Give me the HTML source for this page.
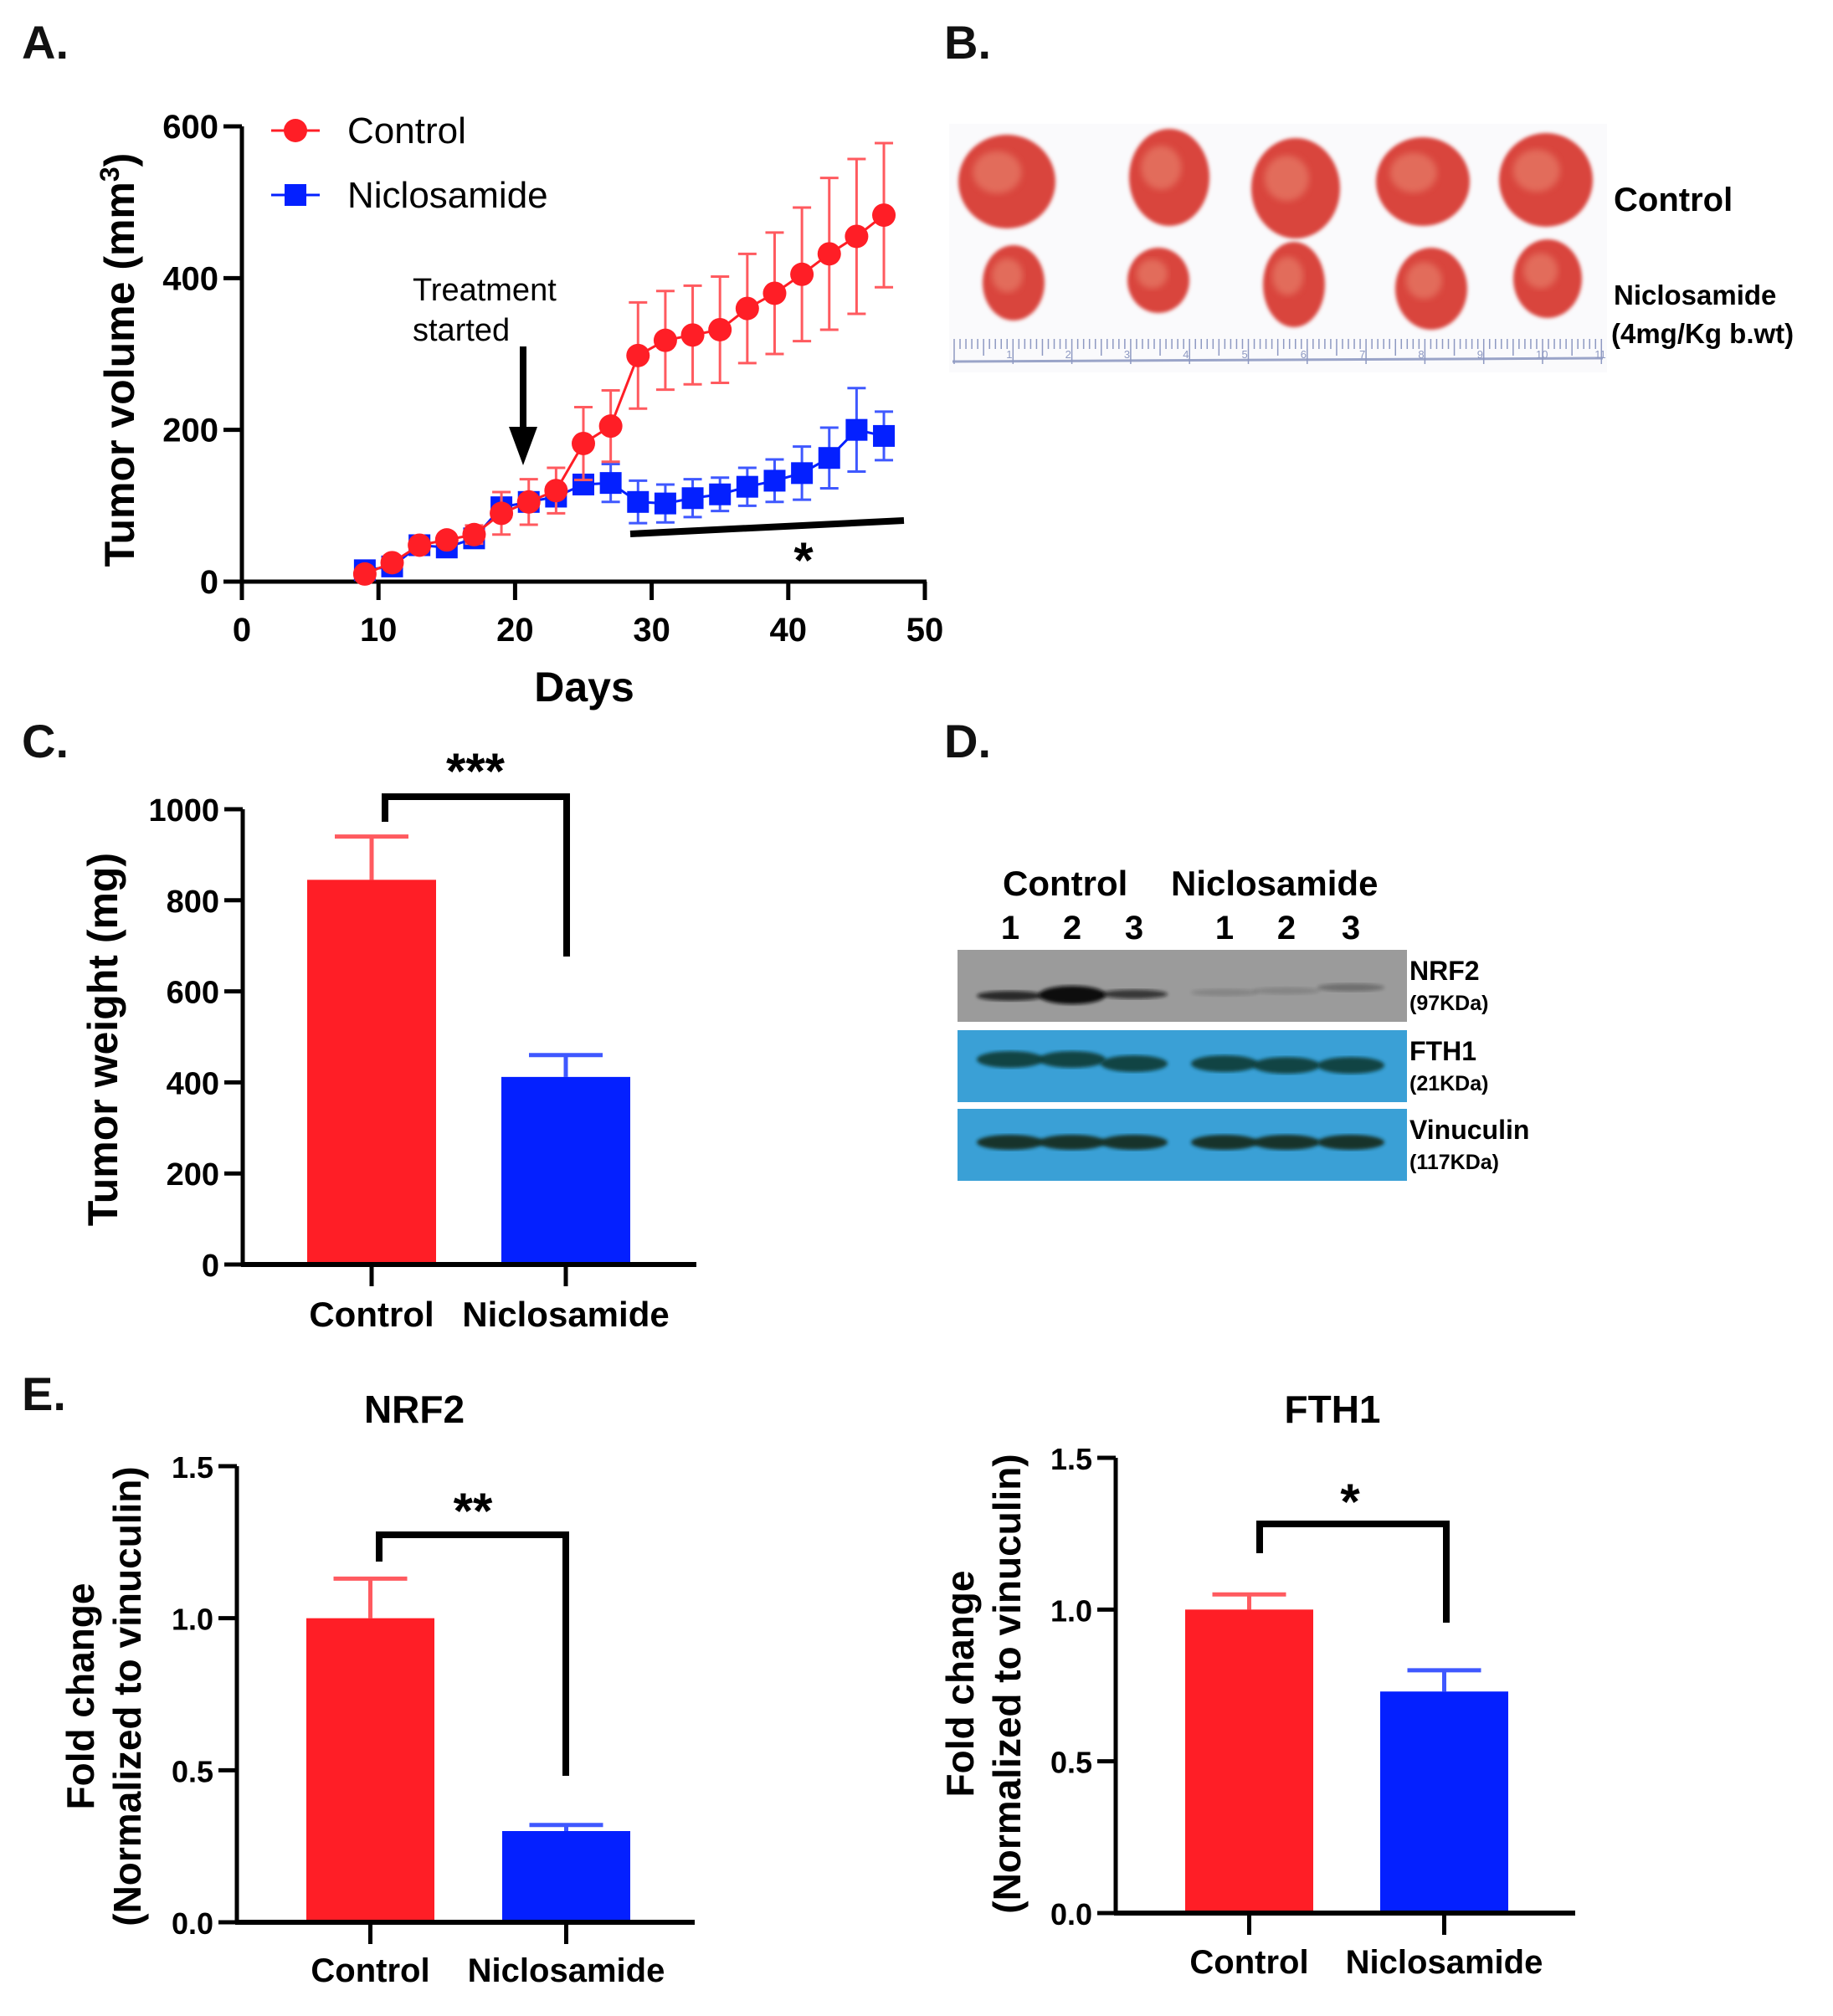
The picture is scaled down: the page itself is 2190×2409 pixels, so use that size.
<!DOCTYPE html>
<html><head><meta charset="utf-8">
<style>
html,body{margin:0;padding:0;background:#fff;}
svg{display:block;font-family:"Liberation Sans",Arial,sans-serif;}
.b{font-weight:bold;}
</style></head>
<body>
<svg id="fig" width="2190" height="2409" viewBox="0 0 2190 2409" xmlns="http://www.w3.org/2000/svg">
<defs>
<filter id="blur2"><feGaussianBlur stdDeviation="2"/></filter>
<filter id="blur4"><feGaussianBlur stdDeviation="4"/></filter>
</defs>
<text x="26" y="70" font-size="56" class="b" fill="#111">A.</text>
<text x="1128" y="70" font-size="56" class="b" fill="#111">B.</text>
<text x="26" y="905" font-size="56" class="b" fill="#111">C.</text>
<text x="1128" y="905" font-size="56" class="b" fill="#111">D.</text>
<text x="26" y="1685" font-size="56" class="b" fill="#111">E.</text>

<g id="panelA"></g>
<g id="panelB"></g>
<g id="panelC"></g>
<g id="panelD"></g>
<g id="panelE1"></g>
<g id="panelE2"></g>
</svg>
<script>
const days = [9,11,13,15,17,19,21,23,25,27,29,31,33,35,37,39,41,43,45,47];
const controlVol = [10,25,48,55,62,90,105,120,182,205,298,318,325,332,360,380,405,432,455,483];
const controlErr = [5,6,8,8,12,28,30,30,48,47,70,65,65,70,72,80,88,100,102,95];
const niclVol = [15,20,48,45,57,98,105,112,128,130,105,103,110,115,125,133,143,163,200,192];
const niclErr = [5,5,6,6,8,10,10,12,12,25,28,25,25,22,25,28,35,40,55,32];
const xTicksA = [0,10,20,30,40,50];
const yTicksA = [0,200,400,600];
const barCats = ["Control","Niclosamide"];
const weightVals = [845,412];
const weightErr = [95,48];
const weightTicks = [0,200,400,600,800,1000];
const nrf2Vals = [1.0,0.30];
const nrf2Err = [0.13,0.02];
const fth1Vals = [1.0,0.73];
const fth1Err = [0.05,0.07];
const foldTicks = ["0.0","0.5","1.0","1.5"];

const NS="http://www.w3.org/2000/svg";
function mk(parent, tag, attrs, text){
  const e=document.createElementNS(NS,tag);
  for(const k in attrs) e.setAttribute(k,attrs[k]);
  if(text!==undefined) e.textContent=text;
  parent.appendChild(e); return e;
}
const RED="#ff1e26", BLUE="#0420ff", LRED="#ff5a5f", LBLUE="#3f58ff";

(function(){
  const g=document.getElementById('panelA');
  const x0=289,x1=1105,y0=695,y1=151;
  const sx=d=>x0+(d-0)/(50-0)*(x1-x0);
  const sy=v=>y0-(v/600)*(y0-y1);
  let e;
  e=mk(g,'line',{x1:x0,y1:y1,x2:x0,y2:y0+2,stroke:'#000','stroke-width':5});
   
  e=mk(g,'line',{x1:x0-2,y1:y0,x2:x1+2,y2:y0,stroke:'#000','stroke-width':5});
   
  yTicksA.forEach(v=>{
    mk(g,'line',{x1:x0-22,y1:sy(v),x2:x0,y2:sy(v),stroke:'#000','stroke-width':5});
    e=mk(g,'text',{x:x0-28,y:sy(v)+14,'font-size':40,'font-weight':'bold','text-anchor':'end'},String(v));
     
  });
  xTicksA.forEach(v=>{
    mk(g,'line',{x1:sx(v),y1:y0,x2:sx(v),y2:y0+22,stroke:'#000','stroke-width':5});
    e=mk(g,'text',{x:sx(v),y:766,'font-size':40,'font-weight':'bold','text-anchor':'middle'},String(v));
     
  });
  e=mk(g,'text',{x:698,y:838,'font-size':50,'font-weight':'bold','text-anchor':'middle'},'Days');
   
  e=mk(g,'text',{transform:'translate(160,430) rotate(-90)','font-size':50,'font-weight':'bold','text-anchor':'middle'});
  e.innerHTML='Tumor volume (mm<tspan dy="-18" font-size="32">3</tspan><tspan dy="18">)</tspan>';
   
  function series(vals,errs,col,lcol,shape,name){
    const sg=mk(g,'g',{});
     
    days.forEach((d,i)=>{
      const x=sx(d),yt=sy(vals[i]+errs[i]),yb=sy(Math.max(0,vals[i]-errs[i]));
      const eb=mk(sg,'path',{d:`M${x},${yt}V${yb}M${x-11},${yt}H${x+11}M${x-11},${yb}H${x+11}`,stroke:lcol,'stroke-width':3,fill:'none'});
       
    });
    let p=days.map((d,i)=>(i?'L':'M')+sx(d)+','+sy(vals[i])).join('');
    const ln=mk(sg,'path',{d:p,stroke:col,'stroke-width':3,fill:'none'});
     
    days.forEach((d,i)=>{
      let m;
      if(shape==='c') m=mk(sg,'circle',{cx:sx(d),cy:sy(vals[i]),r:14,fill:col});
      else m=mk(sg,'rect',{x:sx(d)-13,y:sy(vals[i])-13,width:26,height:26,fill:col});
       
    });
  }
  series(niclVol,niclErr,BLUE,LBLUE,'s','niclosamide');
  series(controlVol,controlErr,RED,LRED,'c','control');
  let lg=mk(g,'g',{});  
  mk(lg,'line',{x1:324,y1:156,x2:382,y2:156,stroke:RED,'stroke-width':3});
  mk(lg,'circle',{cx:353,cy:156,r:14,fill:RED});
  mk(lg,'text',{x:415,y:171,'font-size':44},'Control');
  lg=mk(g,'g',{});  
  mk(lg,'line',{x1:324,y1:233,x2:382,y2:233,stroke:BLUE,'stroke-width':3});
  mk(lg,'rect',{x:340,y:220,width:26,height:26,fill:BLUE});
  mk(lg,'text',{x:415,y:248,'font-size':44},'Niclosamide');
  e=mk(g,'text',{x:493,y:359,'font-size':38},'Treatment');
   
  mk(g,'text',{x:493,y:407,'font-size':38},'started');
  e=mk(g,'path',{d:'M625,414V520',stroke:'#000','stroke-width':8});
   
  mk(g,'path',{d:'M608,510L642,510L625,556Z',fill:'#000'});
  e=mk(g,'line',{x1:753,y1:638,x2:1080,y2:622,stroke:'#000','stroke-width':8});
   
  e=mk(g,'text',{x:960,y:690,'font-size':60,'font-weight':'bold','text-anchor':'middle'},'*');
   
})();

(function(){
  const g=document.getElementById('panelB');
  mk(g,'rect',{x:1134,y:148,width:786,height:297,fill:'#fafafc'});
  const top=[[1203,217,58,56],[1397,212,48,58],[1548,225,53,60],[1700,217,56,53],[1847,215,56,56]];
  const bot=[[1211,338,37,45],[1384,335,37,39],[1546,340,37,51],[1710,345,43,49],[1849,333,41,47]];
  top.concat(bot).forEach((t,i)=>{
    const e=mk(g,'ellipse',{cx:t[0],cy:t[1],rx:t[2],ry:t[3],fill:'#d9443e',filter:'url(#blur2)'});
     
    mk(g,'ellipse',{cx:t[0]-t[2]*0.2,cy:t[1]-t[3]*0.2,rx:t[2]*0.5,ry:t[3]*0.45,fill:'#e98670',opacity:0.6,filter:'url(#blur4)'});
  });
  const r=mk(g,'g',{});  
  mk(r,'line',{x1:1138,y1:432,x2:1915,y2:428,stroke:'#9aa4c8','stroke-width':3});
  for(let i=0;i<=110;i++){
    const x=1140+i*7.03; const h=i%10===0?30:(i%5===0?20:12);
    mk(r,'line',{x1:x,y1:405,x2:x,y2:405+h,stroke:'#8e99c2','stroke-width':1.5});
  }
  for(let k=1;k<=11;k++) mk(r,'text',{x:1140+k*70.3-8,y:428,'font-size':13,fill:'#8e99c2'},String(k));
  let e=mk(g,'text',{x:1928,y:252,'font-size':40,'font-weight':'bold'},'Control');
   
  e=mk(g,'text',{x:1928,y:364,'font-size':33,'font-weight':'bold'},'Niclosamide');
   
  mk(g,'text',{x:1925,y:410,'font-size':33,'font-weight':'bold'},'(4mg/Kg b.wt)');
})();

function barChart(g,o){
  const sy=v=>o.y0-(v/o.max)*(o.y0-o.ytop);
  let e;
  e=mk(g,'line',{x1:o.ax,y1:o.ytop,x2:o.ax,y2:o.y0+2,stroke:'#000','stroke-width':5});
   
  o.vals.forEach((v,i)=>{
    const bx=o.bx[i];
    const et=sy(v+o.err[i]);
    const eb=mk(g,'path',{d:`M${bx+o.bw/2},${sy(v)}V${et}M${bx+o.bw/2-44},${et}H${bx+o.bw/2+44}`,stroke:i?LBLUE:LRED,'stroke-width':5,fill:'none'});
     
    const b=mk(g,'rect',{x:bx,y:sy(v),width:o.bw,height:o.y0-sy(v),fill:i?BLUE:RED});
     
    mk(g,'line',{x1:bx+o.bw/2,y1:o.y0,x2:bx+o.bw/2,y2:o.y0+26,stroke:'#000','stroke-width':5});
    const t=mk(g,'text',{x:bx+o.bw/2,y:o.catY,'font-size':o.catFs,'font-weight':'bold','text-anchor':'middle'},barCats[i]);
     
  });
  e=mk(g,'line',{x1:o.ax-2,y1:o.y0,x2:o.xend,y2:o.y0,stroke:'#000','stroke-width':6});
   
  o.ticks.forEach(tv=>{
    const v=parseFloat(tv);
    mk(g,'line',{x1:o.ax-22,y1:sy(v),x2:o.ax,y2:sy(v),stroke:'#000','stroke-width':5});
    const t=mk(g,'text',{x:o.ax-28,y:sy(v)+14,'font-size':o.tickFs,'font-weight':'bold','text-anchor':'end'},String(tv));
     
  });
  const br=o.br;
  e=mk(g,'path',{d:`M${br[0]},${br[2]}V${br[1]}H${br[3]}V${br[4]}`,stroke:'#000','stroke-width':8,fill:'none'});
   
  e=mk(g,'text',{x:o.star[0],y:o.star[1],'font-size':60,'font-weight':'bold','text-anchor':'middle'},o.star[2]);
   
  return sy;
}

(function(){
  const g=document.getElementById('panelC');
  barChart(g,{ax:290,y0:1511,ytop:967,max:1000,vals:weightVals,err:weightErr,bx:[367,599],bw:154,
    xend:832,ticks:weightTicks,tickFs:38,catY:1585,catFs:42,br:[460,952,982,677,1143],star:[568,942,'***']});
  const e=mk(g,'text',{transform:'translate(140,1242) rotate(-90)','font-size':50,'font-weight':'bold','text-anchor':'middle'},'Tumor weight (mg)');
   
})();

(function(){
  const g=document.getElementById('panelD');
  let e;
  e=mk(g,'text',{x:1198,y:1070,'font-size':42,'font-weight':'bold'},'Control');
   
  e=mk(g,'text',{x:1399,y:1070,'font-size':42,'font-weight':'bold'},'Niclosamide');
   
  const lanes=[1207,1281,1355,1463,1537,1614];
  const laneNums=["1","2","3","1","2","3"];
  lanes.forEach((x,i)=>{
    e=mk(g,'text',{x:x,y:1122,'font-size':40,'font-weight':'bold','text-anchor':'middle'},laneNums[i]);
     
  });
  const blots=[[1135,'#9b9b9b','NRF2','(97KDa)'],[1231,'#3aa0d6','FTH1','(21KDa)'],[1325,'#3aa0d6','Vinuculin','(117KDa)']];
  blots.forEach((b,k)=>{
    e=mk(g,'rect',{x:1144,y:b[0],width:537,height:86,fill:b[1]});
     
    mk(g,'text',{x:1684,y:b[0]+36,'font-size':32,'font-weight':'bold'},b[2]);
    mk(g,'text',{x:1684,y:b[0]+72,'font-size':25,'font-weight':'bold'},b[3]);
  });
  const nrfI=[0.8,1,0.7,0.15,0.15,0.3], nrfH=[8,18,7,5,5,6], nrfY=[1190,1189,1188,1186,1184,1180];
  lanes.forEach((x,i)=>{
    mk(g,'ellipse',{cx:x,cy:nrfY[i],rx:40,ry:nrfH[i]/2+2,fill:'#111',opacity:nrfI[i],filter:'url(#blur2)'});
    mk(g,'ellipse',{cx:x,cy:1266+(i>3?7:(i>1?5:0)),rx:40,ry:10,fill:'#0f3a34',opacity:0.9,filter:'url(#blur2)'});
    mk(g,'ellipse',{cx:x,cy:1365,rx:40,ry:9,fill:'#122e22',opacity:0.95,filter:'url(#blur2)'});
  });
})();

(function(){
  const g1=document.getElementById('panelE1');
  barChart(g1,{ax:283,y0:2297,ytop:1752,max:1.5,vals:nrf2Vals,err:nrf2Err,bx:[366,600],bw:153,
    xend:830,ticks:foldTicks,tickFs:36,catY:2368,catFs:40,br:[453,1834,1866,676,2122],star:[565,1826,'**']});
  let e=mk(g1,'text',{x:495,y:1700,'font-size':46,'font-weight':'bold','text-anchor':'middle'},'NRF2');
   
  e=mk(g1,'text',{transform:'translate(112,2027) rotate(-90)','font-size':46,'font-weight':'bold','text-anchor':'middle'},'Fold change');
   
  mk(g1,'text',{transform:'translate(168,2027) rotate(-90)','font-size':46,'font-weight':'bold','text-anchor':'middle'},'(Normalized to vinuculin)');
  const g2=document.getElementById('panelE2');
  barChart(g2,{ax:1333,y0:2286,ytop:1742,max:1.5,vals:fth1Vals,err:fth1Err,bx:[1416,1649],bw:153,
    xend:1882,ticks:foldTicks,tickFs:36,catY:2358,catFs:40,br:[1505,1821,1856,1728,1939],star:[1613,1815,'*']});
  e=mk(g2,'text',{x:1592,y:1700,'font-size':46,'font-weight':'bold','text-anchor':'middle'},'FTH1');
   
  e=mk(g2,'text',{transform:'translate(1163,2012) rotate(-90)','font-size':46,'font-weight':'bold','text-anchor':'middle'},'Fold change');
   
  mk(g2,'text',{transform:'translate(1219,2012) rotate(-90)','font-size':46,'font-weight':'bold','text-anchor':'middle'},'(Normalized to vinuculin)');
})();
</script>
</body></html>
